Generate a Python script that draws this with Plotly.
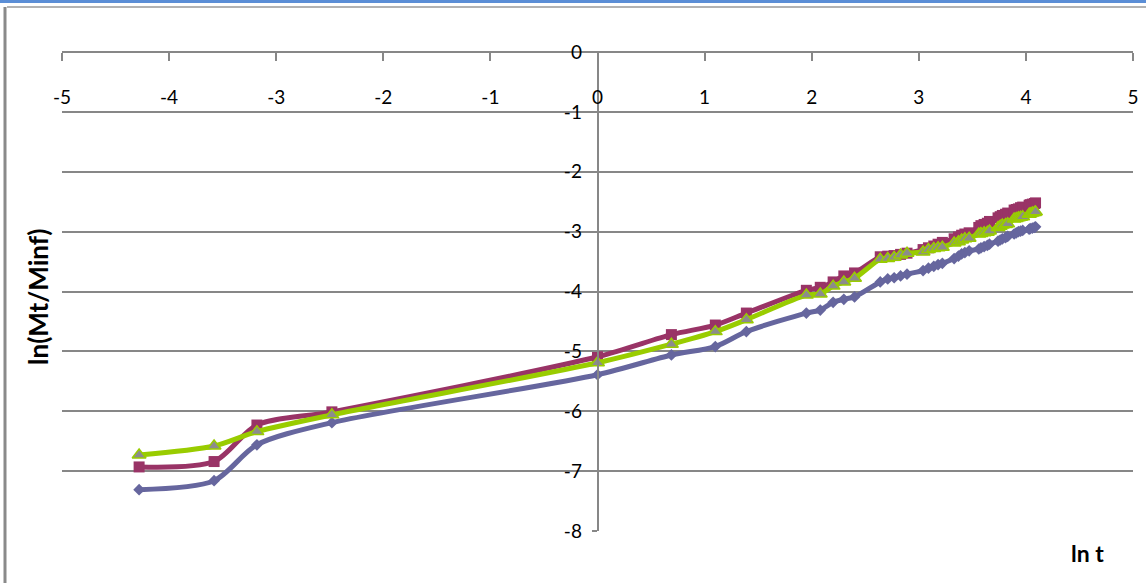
import plotly.graph_objects as go

# ln t (t in days) sampling points
ln_t = [-4.28, -3.58, -3.18, -2.48, 0.00, 0.69, 1.10, 1.39,
        1.95, 2.08, 2.20, 2.30, 2.40,
        2.64, 2.71, 2.77, 2.83, 2.89,
        3.04, 3.09, 3.14, 3.18, 3.22,
        3.33, 3.37, 3.40, 3.43, 3.47,
        3.56, 3.58, 3.61, 3.64, 3.66,
        3.74, 3.76, 3.78, 3.81, 3.83,
        3.89, 3.91, 3.93, 3.95, 3.97,
        4.03, 4.04, 4.06, 4.08, 4.09]

series_blue = [-7.31, -7.16, -6.56, -6.19, -5.39, -5.06, -4.92, -4.67,
               -4.36, -4.31, -4.18, -4.13, -4.09,
               -3.84, -3.79, -3.77, -3.74, -3.71,
               -3.65, -3.61, -3.58, -3.55, -3.53,
               -3.45, -3.41, -3.37, -3.35, -3.32,
               -3.29, -3.27, -3.25, -3.23, -3.21,
               -3.16, -3.14, -3.12, -3.10, -3.08,
               -3.04, -3.02, -3.00, -2.99, -2.98,
               -2.96, -2.95, -2.94, -2.93, -2.92]

series_maroon = [-6.93, -6.84, -6.23, -6.01, -5.09, -4.72, -4.56, -4.36,
                 -3.98, -3.93, -3.84, -3.74, -3.69,
                 -3.42, -3.41, -3.40, -3.38, -3.36,
                 -3.30, -3.27, -3.24, -3.21, -3.18,
                 -3.12, -3.09, -3.06, -3.04, -3.02,
                 -2.93, -2.90, -2.88, -2.86, -2.83,
                 -2.77, -2.75, -2.73, -2.71, -2.69,
                 -2.64, -2.63, -2.62, -2.60, -2.59,
                 -2.56, -2.55, -2.54, -2.53, -2.52]

series_green = [-6.73, -6.58, -6.34, -6.06, -5.19, -4.88, -4.67, -4.47,
                -4.06, -4.04, -3.91, -3.84, -3.78,
                -3.46, -3.45, -3.43, -3.39, -3.36,
                -3.34, -3.30, -3.28, -3.27, -3.26,
                -3.19, -3.17, -3.14, -3.12, -3.11,
                -3.04, -3.03, -3.02, -3.01, -2.99,
                -2.93, -2.91, -2.89, -2.88, -2.87,
                -2.79, -2.78, -2.77, -2.76, -2.75,
                -2.71, -2.70, -2.69, -2.68, -2.67]

x_ticks = [-5, -4, -3, -2, -1, 0, 1, 2, 3, 4, 5]
y_ticks = [0, -1, -2, -3, -4, -5, -6, -7, -8]

GRID = "#878787"
FONT = "Lato"

fig = go.Figure()
fig.add_trace(go.Scatter(
    x=ln_t, y=series_blue, mode="lines+markers",
    line=dict(color="#66669E", width=5, shape="spline", smoothing=0.8),
    marker=dict(symbol="diamond", size=9, color="#66669E"),
    showlegend=False))
fig.add_trace(go.Scatter(
    x=ln_t, y=series_maroon, mode="lines+markers",
    line=dict(color="#993366", width=5, shape="spline", smoothing=0.8),
    marker=dict(symbol="square", size=11, color="#993366"),
    showlegend=False))
fig.add_trace(go.Scatter(
    x=ln_t, y=series_green, mode="lines+markers",
    line=dict(color="#99CC00", width=5, shape="spline", smoothing=0.8),
    marker=dict(symbol="triangle-up", size=12, color="#8C8C8C",
                line=dict(color="#99CC00", width=1.5)),
    showlegend=False))

fig.update_layout(
    width=1146, height=583,
    margin=dict(l=62, r=13, t=52, b=52, autoexpand=False),
    paper_bgcolor="white", plot_bgcolor="white",
    font=dict(family=FONT, size=19, color="black"),
    xaxis=dict(
        range=[-5, 5], tickvals=x_ticks, ticktext=[str(v) for v in x_ticks],
        showgrid=False, zeroline=False, automargin=False,
        showline=True, linecolor=GRID, linewidth=1.5,
        ticks="outside", ticklen=8, tickcolor=GRID, tickwidth=1.5,
        anchor="free", position=1, side="bottom",
        ticklabelstandoff=20,
        tickfont=dict(family=FONT, size=19, color="black"),
    ),
    yaxis=dict(
        range=[-8, 0], tickvals=y_ticks, ticktext=[str(v) for v in y_ticks],
        showgrid=True, gridcolor=GRID, gridwidth=1.5, zeroline=False,
        automargin=False,
        showline=True, linecolor=GRID, linewidth=1.5,
        ticks="outside", ticklen=5, tickcolor=GRID, tickwidth=1.5,
        anchor="free", position=0.5, side="left",
        ticklabelstandoff=6,
        tickfont=dict(family=FONT, size=19, color="black"),
    ),
    shapes=[
        dict(type="rect", xref="paper", yref="paper",
             x0=-0.06, x1=1.02, y0=(531 - 3) / 479, y1=(531 + 2) / 479,
             fillcolor="#5B8ED6", line=dict(width=0), layer="above"),
        dict(type="line", xref="paper", yref="paper",
             x0=(7 - 62) / 1071, x1=1.02, y0=(531 - 7) / 479, y1=(531 - 7) / 479,
             line=dict(color="#9A9A9A", width=1.5)),
        dict(type="line", xref="paper", yref="paper",
             x0=(5 - 62) / 1071, x1=(5 - 62) / 1071, y0=-0.2, y1=(531 - 7) / 479,
             line=dict(color="#8A8A8A", width=3)),
    ],
    annotations=[
        dict(text="<b>ln(Mt/Minf)</b>", xref="paper", yref="paper",
             x=(38 - 62) / 1071, y=(531 - 297) / 479, textangle=-90,
             showarrow=False, font=dict(family=FONT, size=26, color="black"),
             xanchor="center", yanchor="middle"),
        dict(text="<b>ln t</b>", xref="paper", yref="paper",
             x=(1087 - 62) / 1071, y=(531 - 553) / 479,
             showarrow=False, font=dict(family=FONT, size=23, color="black"),
             xanchor="center", yanchor="middle"),
    ],
)

fig.write_html("out.html",
               config={"displayModeBar": False},
               post_script="document.body.style.margin='0';document.body.style.overflow='hidden';")
